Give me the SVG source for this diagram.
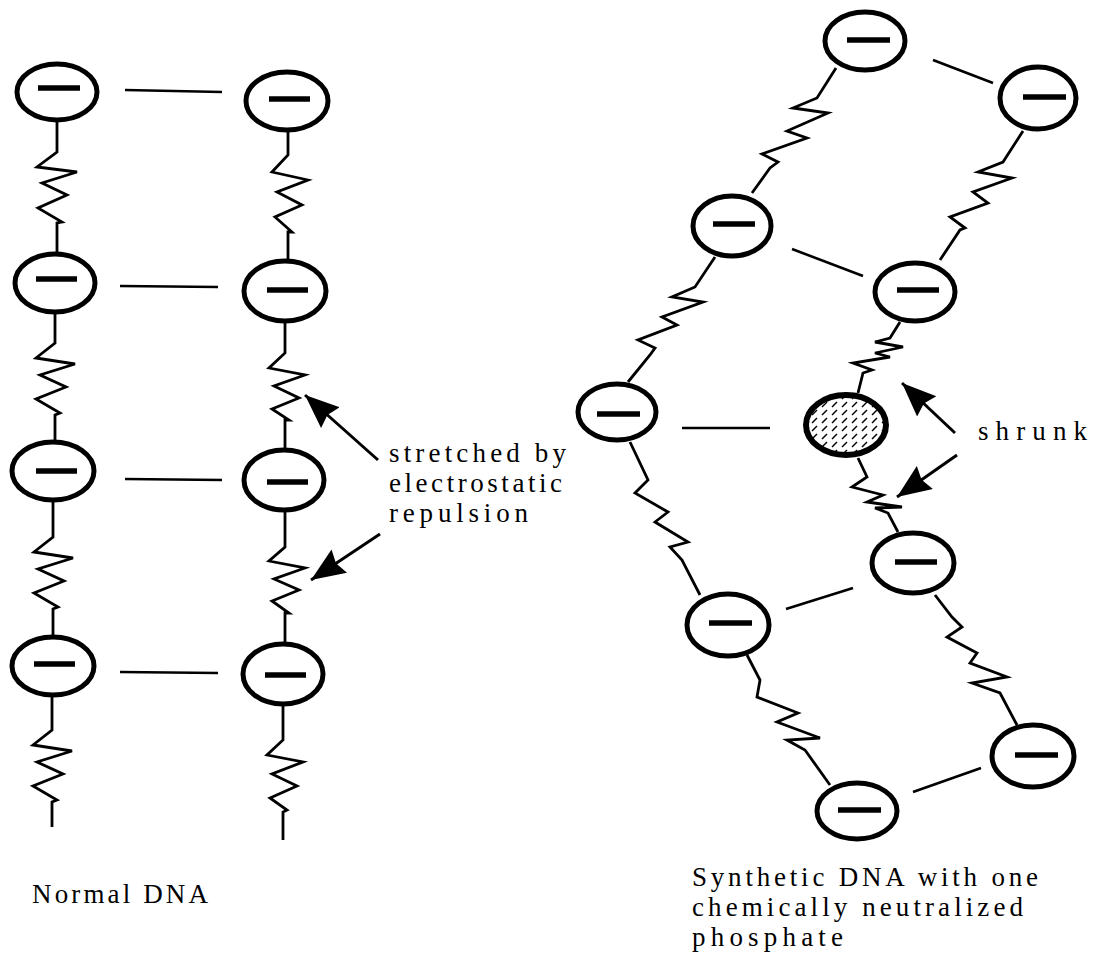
<svg xmlns="http://www.w3.org/2000/svg" width="1095" height="957" viewBox="0 0 1095 957">
<style>
.node{fill:#fff;stroke:#000;stroke-width:5}
.minus{stroke:#000;stroke-width:5.5;stroke-linecap:butt}
.rung{stroke:#000;stroke-width:2.6;fill:none}
.spring{stroke:#000;stroke-width:2.8;fill:none;stroke-linejoin:miter}
.arrow{stroke:#000;stroke-width:3;fill:none;marker-end:url(#ah)}
.lbl{font-family:"Liberation Serif",serif;font-size:27px;fill:#000}
.cap{font-family:"Liberation Serif",serif;font-size:27px;fill:#000}
</style>
<defs>
<marker id="ah" markerUnits="userSpaceOnUse" markerWidth="36" markerHeight="30" refX="34" refY="14" orient="auto"><path d="M0,0 L34,14 L0,28 L4,14 Z" fill="#000"/></marker>
<pattern id="hatch" patternUnits="userSpaceOnUse" width="10" height="8"><path d="M2,7 L7,2" stroke="#000" stroke-width="1.4"/></pattern>
</defs>
<rect width="1095" height="957" fill="#fff"/>

<g id="connectors">
<!-- left diagram rungs -->
<line class="rung" x1="125" y1="90" x2="222" y2="92"/>
<line class="rung" x1="120" y1="286" x2="218" y2="287"/>
<line class="rung" x1="125" y1="479" x2="222" y2="480"/>
<line class="rung" x1="120" y1="672" x2="218" y2="673"/>
<!-- left column springs -->
<path class="spring" d="M57,121 V152 L37,167 L77,172 L42,183 L67,195 L38,208 L62,222 L57,223 V254"/>
<path class="spring" d="M55,312 V343 L36,358 L75,364 L40,375 L66,387 L36,399 L60,413 L55,415 V442"/>
<path class="spring" d="M53,500 V537 L34,552 L73,558 L38,569 L64,581 L34,593 L58,607 L53,609 V637"/>
<path class="spring" d="M52,695 V730 L33,745 L72,751 L37,762 L63,774 L33,786 L57,800 L52,802 V827"/>
<!-- second column springs -->
<path class="spring" d="M288,131 V155 L272,172 L308,180 L277,192 L302,205 L275,217 L292,232 L288,232 V260"/>
<path class="spring" d="M285,320 V353 L269,368 L305,375 L274,386 L299,398 L272,409 L289,420 L285,420 V450"/>
<path class="spring" d="M285,510 V547 L269,561 L305,568 L274,579 L299,590 L272,601 L289,613 L285,613 V644"/>
<path class="spring" d="M283,704 V740 L267,755 L303,762 L272,774 L297,786 L270,798 L287,810 L283,812 V840"/>
<!-- right diagram rungs -->
<line class="rung" x1="933" y1="60" x2="993" y2="83"/>
<line class="rung" x1="792" y1="249" x2="863" y2="276"/>
<line class="rung" x1="682" y1="428" x2="770" y2="428"/>
<line class="rung" x1="786" y1="609" x2="853" y2="588"/>
<line class="rung" x1="913" y1="792" x2="981" y2="768"/>
<!-- right diagram springs -->
<path class="spring" d="M836,68 L817,98 L793,108 L828,113 L787,131 L807,138 L762,154 L778,162 L770,168 L752,193"/>
<path class="spring" d="M715,257 L695,287 L672,297 L703,302 L662,317 L677,325 L638,340 L655,348 L650,355 L628,382"/>
<path class="spring" d="M1023,131 L1003,162 L978,172 L1012,178 L973,192 L988,203 L950,217 L965,228 L960,230 L940,260"/>
<path class="spring" d="M900,322 L890,338 L875,342 L903,347 L875,353 L890,357 L853,363 L872,370 L863,373 L858,393"/>
<path class="spring" d="M858,458 L867,477 L852,487 L883,495 L867,502 L902,507 L875,508 L888,513 L898,532"/>
<path class="spring" d="M630,442 L648,480 L635,493 L668,512 L655,522 L688,542 L670,547 L682,560 L700,595"/>
<path class="spring" d="M747,655 L760,680 L757,697 L798,713 L777,722 L820,738 L787,740 L805,750 L830,785"/>
<path class="spring" d="M935,595 L952,617 L962,627 L947,637 L977,653 L970,663 L1007,677 L972,683 L1000,693 L1017,725"/>
<!-- arrows -->
<line class="arrow" x1="378" y1="460" x2="305" y2="395"/>
<line class="arrow" x1="380" y1="534" x2="311" y2="580"/>
<line class="arrow" x1="955" y1="433" x2="902" y2="383"/>
<line class="arrow" x1="957" y1="455" x2="897" y2="497"/>
</g>

<!-- left diagram nodes -->
<g id="n-l1"><ellipse class="node" cx="57" cy="92" rx="40" ry="28"/><line class="minus" x1="38" y1="88" x2="80" y2="88"/></g>
<g id="n-l2"><ellipse class="node" cx="55" cy="283" rx="40" ry="29"/><line class="minus" x1="36" y1="279" x2="77" y2="279"/></g>
<g id="n-l3"><ellipse class="node" cx="53" cy="471" rx="41" ry="29"/><line class="minus" x1="36" y1="471" x2="77" y2="471"/></g>
<g id="n-l4"><ellipse class="node" cx="53" cy="666" rx="41" ry="29"/><line class="minus" x1="34" y1="664" x2="75" y2="664"/></g>
<g id="n-r1"><ellipse class="node" cx="287" cy="101" rx="41" ry="29"/><line class="minus" x1="269" y1="99" x2="310" y2="99"/></g>
<g id="n-r2"><ellipse class="node" cx="285" cy="291" rx="41" ry="30"/><line class="minus" x1="267" y1="290" x2="308" y2="290"/></g>
<g id="n-r3"><ellipse class="node" cx="284" cy="480" rx="40" ry="30"/><line class="minus" x1="267" y1="482" x2="308" y2="482"/></g>
<g id="n-r4"><ellipse class="node" cx="283" cy="674" rx="40" ry="30"/><line class="minus" x1="265" y1="675" x2="306" y2="675"/></g>

<!-- right diagram nodes -->
<g id="n-a"><ellipse class="node" cx="865" cy="41" rx="40" ry="29"/><line class="minus" x1="847" y1="40" x2="890" y2="40"/></g>
<g id="n-b"><ellipse class="node" cx="1038" cy="98" rx="38" ry="31"/><line class="minus" x1="1023" y1="97" x2="1066" y2="97"/></g>
<g id="n-c"><ellipse class="node" cx="732" cy="226" rx="39" ry="30"/><line class="minus" x1="713" y1="224" x2="755" y2="224"/></g>
<g id="n-d"><ellipse class="node" cx="915" cy="292" rx="40" ry="29"/><line class="minus" x1="897" y1="290" x2="939" y2="290"/></g>
<g id="n-e"><ellipse class="node" cx="617" cy="412" rx="39" ry="28"/><line class="minus" x1="597" y1="414" x2="640" y2="414"/></g>
<g id="n-f"><ellipse cx="846" cy="425" rx="40" ry="30" fill="url(#hatch)" stroke="#000" stroke-width="6"/></g>
<g id="n-g"><ellipse class="node" cx="913" cy="563" rx="41" ry="30"/><line class="minus" x1="895" y1="562" x2="937" y2="562"/></g>
<g id="n-h"><ellipse class="node" cx="728" cy="625" rx="41" ry="31"/><line class="minus" x1="709" y1="623" x2="752" y2="623"/></g>
<g id="n-i"><ellipse class="node" cx="1033" cy="756" rx="41" ry="31"/><line class="minus" x1="1015" y1="755" x2="1058" y2="755"/></g>
<g id="n-j"><ellipse class="node" cx="857" cy="811" rx="40" ry="28"/><line class="minus" x1="838" y1="810" x2="881" y2="810"/></g>

<g id="labels">
<text class="lbl" x="389" y="462" textLength="177" lengthAdjust="spacing">stretched by</text>
<text class="lbl" x="389" y="492" textLength="173" lengthAdjust="spacing">electrostatic</text>
<text class="lbl" x="389" y="522" textLength="139" lengthAdjust="spacing">repulsion</text>
<text class="lbl" x="978" y="440" textLength="109" lengthAdjust="spacing">shrunk</text>
<text class="cap" x="32" y="903" textLength="176" lengthAdjust="spacing">Normal DNA</text>
<text class="cap" x="692" y="886" textLength="346" lengthAdjust="spacing">Synthetic DNA with one</text>
<text class="cap" x="692" y="916" textLength="331" lengthAdjust="spacing">chemically neutralized</text>
<text class="cap" x="692" y="946" textLength="151" lengthAdjust="spacing">phosphate</text>
</g>
</svg>
